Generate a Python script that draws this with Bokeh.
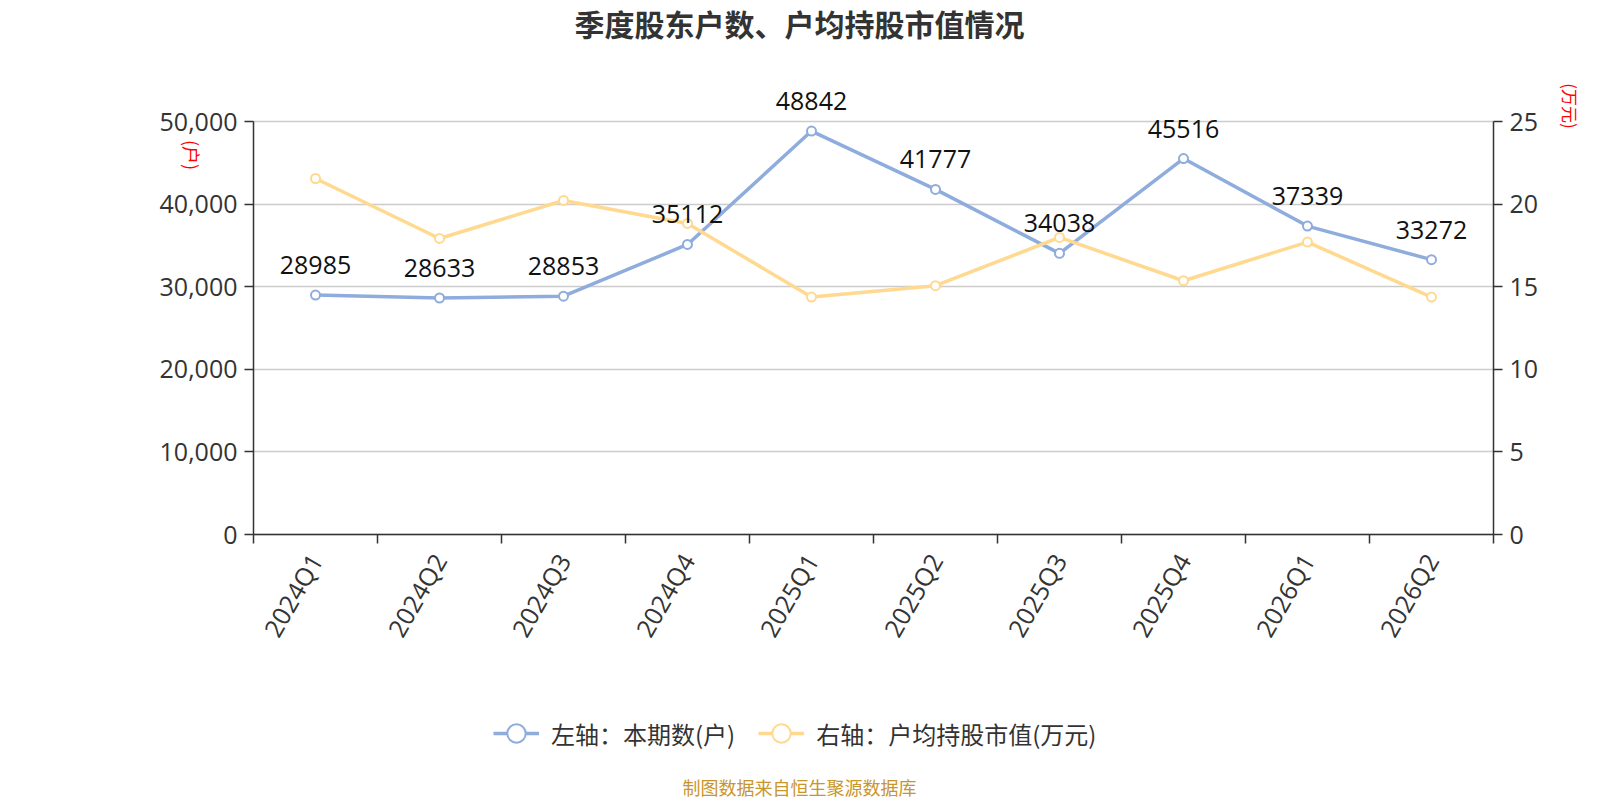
import math
from bokeh.plotting import figure
from bokeh.models import (Range1d, LinearAxis, FixedTicker, NumeralTickFormatter,
                          ColumnDataSource, LabelSet, Label, Legend, LegendItem, Grid)
from bokeh.core.properties import value
from bokeh.embed import file_html
from bokeh.resources import INLINE

# ---------------- data ----------------
quarters = ["2024Q1", "2024Q2", "2024Q3", "2024Q4", "2025Q1",
            "2025Q2", "2025Q3", "2025Q4", "2026Q1", "2026Q2"]
holders = [28985, 28633, 28853, 35112, 48842, 41777, 34038, 45516, 37339, 33272]
avg_value = [21.55, 17.92, 20.22, 18.83, 14.37, 15.06, 17.98, 15.36, 17.70, 14.37]
left_ticks = [0, 10000, 20000, 30000, 40000, 50000]
right_ticks = [0, 5, 10, 15, 20, 25]

title_text = "季度股东户数、户均持股市值情况"
legend_left = "左轴：本期数(户)"
legend_right = "右轴：户均持股市值(万元)"
left_unit = "(户)"
right_unit = "(万元)"
source_text = "制图数据来自恒生聚源数据库"

# ---------------- layout (canvas pixels) ----------------
W, H = 1592, 800
FL, FR, FT, FB = 253, 1493, 121, 534   # visual plot area

BLUE = "#8eacdc"
YELLOW = "#ffd98f"
AXIS = "#333333"
NUM_FONT = "Open Sans"
CJK_FONT = "Noto Sans CJK SC"

n = len(quarters)
LMAX = left_ticks[-1]
RMAX = right_ticks[-1]


def dx(px):
    return -0.5 + (px - FL) / (FR - FL) * n


def dy(py):
    return (FB - py) / (FB - FT) * LMAX


def dyr(py):
    return (FB - py) / (FB - FT) * RMAX


# the frame covers the whole canvas; axes are pinned at the plot-area edges
p = figure(width=W, height=H, output_backend="svg", toolbar_location=None,
           x_range=Range1d(dx(0), dx(W)), y_range=Range1d(dy(H), dy(0)),
           x_axis_location=None, y_axis_location=None, min_border=0)
p.outline_line_color = None
p.background_fill_color = "white"
p.border_fill_color = "white"
p.extra_y_ranges = {"r": Range1d(dyr(H), dyr(0))}
p.grid.visible = False

x = list(range(n))
x_lo, x_hi = -0.5, n - 0.5

# x axis: labels at category centres, ticks at category boundaries
xa = LinearAxis(fixed_location=0, bounds=(x_lo, x_hi),
                ticker=FixedTicker(ticks=x, minor_ticks=[i - 0.5 for i in range(n + 1)]))
xa.major_label_overrides = {i: q for i, q in enumerate(quarters)}
xa.major_tick_out = 0
xa.major_tick_in = 0
xa.minor_tick_out = 9
xa.minor_tick_in = 0
xa.minor_tick_line_color = AXIS
xa.minor_tick_line_width = 1.5
xa.axis_line_color = AXIS
xa.axis_line_width = 1.5
xa.major_label_orientation = math.pi / 3
xa.major_label_standoff = 12
xa.major_label_text_font = NUM_FONT
xa.major_label_text_font_size = "25px"
xa.major_label_text_color = AXIS
p.add_layout(xa, "below")


def style_y(ax):
    ax.major_tick_out = 9
    ax.major_tick_in = 0
    ax.minor_tick_out = 0
    ax.minor_tick_in = 0
    ax.major_tick_line_color = AXIS
    ax.major_tick_line_width = 1.5
    ax.axis_line_color = AXIS
    ax.axis_line_width = 1.5
    ax.major_label_standoff = 7
    ax.major_label_text_font = NUM_FONT
    ax.major_label_text_font_size = "25px"
    ax.major_label_text_color = AXIS


ya = LinearAxis(fixed_location=x_lo, bounds=(0, LMAX),
                ticker=FixedTicker(ticks=left_ticks),
                formatter=NumeralTickFormatter(format="0,0"))
style_y(ya)
p.add_layout(ya, "left")

ra = LinearAxis(fixed_location=x_hi, bounds=(0, RMAX), y_range_name="r",
                ticker=FixedTicker(ticks=right_ticks))
style_y(ra)
p.add_layout(ra, "right")

# horizontal grid lines limited to the plot area
if "cross_bounds" in Grid.properties():
    g = Grid(dimension=1, ticker=FixedTicker(ticks=left_ticks),
             cross_bounds=(x_lo, x_hi), grid_line_color="#cccccc",
             grid_line_width=1.5)
    p.add_layout(g)
else:
    p.segment(x0=[x_lo] * len(left_ticks), x1=[x_hi] * len(left_ticks),
              y0=left_ticks, y1=left_ticks, line_color="#cccccc", line_width=1.5,
              level="underlay")

# series
bl = p.line(x, holders, line_color=BLUE, line_width=3.5)
bs = p.scatter(x, holders, marker="circle", size=9, fill_color="white",
               line_color=BLUE, line_width=2)
yl = p.line(x, avg_value, line_color=YELLOW, line_width=3.5, y_range_name="r")
ys = p.scatter(x, avg_value, marker="circle", size=9, fill_color="white",
               line_color=YELLOW, line_width=2, y_range_name="r")

src = ColumnDataSource(dict(x=x, y=holders, t=[str(v) for v in holders]))
labels = LabelSet(x="x", y="y", text="t", source=src, y_offset=21,
                  text_align="center", text_baseline="alphabetic",
                  text_font=value(NUM_FONT), text_font_size="25px",
                  text_color="#111111")
p.add_layout(labels)

legend = Legend(items=[LegendItem(label=legend_left, renderers=[bl, bs]),
                       LegendItem(label=legend_right, renderers=[yl, ys])],
                location=(493, H - 756), orientation="horizontal",
                glyph_width=46, glyph_height=46, label_standoff=12, spacing=23,
                padding=0, margin=0, border_line_color=None,
                background_fill_alpha=0,
                label_text_font=CJK_FONT, label_text_font_size="24px",
                label_text_color=AXIS)
p.add_layout(legend)


def add_label(px, py, text, size, color, bold=False, angle=0.0):
    p.add_layout(Label(x=dx(px), y=dy(py), text=text, angle=angle,
                       text_align="center", text_baseline="middle",
                       text_font=CJK_FONT, text_font_size=size,
                       text_font_style="bold" if bold else "normal",
                       text_color=color))


add_label(799, 22.5, title_text, "30px", AXIS, bold=True)
add_label(799, 786, source_text, "18px", "#c9962b")
add_label(191.5, 154.5, left_unit, "18px", "#ff0000", angle=-math.pi / 2)
add_label(1570, 105.5, right_unit, "17px", "#ff0000", angle=-math.pi / 2)

open("out.html", "w").write(file_html(p, INLINE))
